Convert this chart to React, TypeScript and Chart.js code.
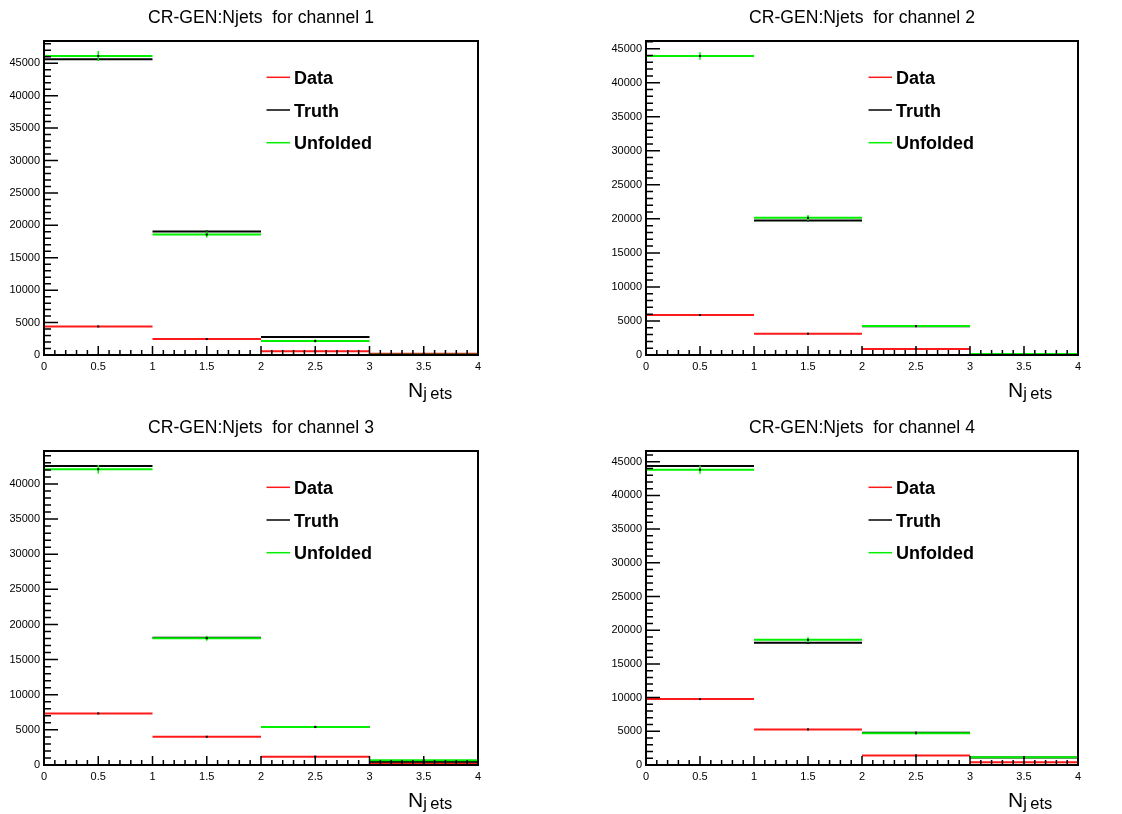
import React, { useEffect, useRef } from "react";
import { Chart, registerables } from "chart.js";
Chart.register(...registerables);

const binEdges = [0, 1, 2, 3, 4];
const seriesNames = ["Data", "Truth", "Unfolded"];
const seriesColors = ["#ff1a1a", "#000000", "#00f000"];
const xLabelMain = "N";
const xLabelSub = "jets";
const xTickValues = [0, 0.5, 1, 1.5, 2, 2.5, 3, 3.5, 4];
const yTickValues = [0, 5000, 10000, 15000, 20000, 25000, 30000, 35000, 40000, 45000];

const titles = [
  "CR-GEN:Njets  for channel 1",
  "CR-GEN:Njets  for channel 2",
  "CR-GEN:Njets  for channel 3",
  "CR-GEN:Njets  for channel 4",
];

const data1 = [4400, 2460, 560, 200];
const truth1 = [45620, 19050, 2780, 40];
const unfolded1 = [46130, 18590, 2160, 30];
const unfoldedErr1 = [780, 450, 250, 40];

const data2 = [5870, 3130, 880, 60];
const truth2 = [43920, 19760, 4230, 120];
const unfolded2 = [43930, 20150, 4260, 140];
const unfoldedErr2 = [550, 420, 150, 30];

const data3 = [7340, 4020, 1190, 240];
const truth3 = [42560, 18100, 5400, 480];
const unfolded3 = [42090, 18050, 5420, 670];
const unfoldedErr3 = [600, 350, 150, 100];

const data4 = [9780, 5280, 1420, 400];
const truth4 = [44370, 18130, 4800, 1100];
const unfolded4 = [43820, 18570, 4720, 1140];
const unfoldedErr4 = [600, 400, 150, 80];

const FONT = "'Liberation Sans', Arial, Helvetica, sans-serif";

type PanelProps = {
  title: string;
  series: number[][];
  err: number[];
  areaLeft: number;
  areaRight: number;
  areaTop: number;
  areaBottom: number;
  width: number;
  height: number;
};

function toSegments(vals: number[]) {
  const pts: { x: number; y: number | null }[] = [];
  vals.forEach((v, i) => {
    pts.push({ x: binEdges[i], y: v });
    pts.push({ x: binEdges[i + 1], y: v });
    pts.push({ x: binEdges[i + 1], y: null });
  });
  return pts;
}

function Panel(p: PanelProps) {
  const ref = useRef<HTMLCanvasElement | null>(null);
  useEffect(() => {
    if (!ref.current) return;
    const all = p.series.flat();
    const yMax = Math.max(...all) * 1.05;
    const decor = {
      id: "rootDecor",
      afterDatasetsDraw(chart: any) {
        const ctx = chart.ctx;
        const xs = chart.scales.x;
        const ys = chart.scales.y;
        ctx.save();
        p.series.forEach((vals, si) => {
          vals.forEach((v, i) => {
            const cx = xs.getPixelForValue((binEdges[i] + binEdges[i + 1]) / 2);
            const cy = ys.getPixelForValue(v);
            if (si === 2) {
              const e = p.err[i];
              ctx.strokeStyle = seriesColors[2];
              ctx.lineWidth = 1.5;
              ctx.beginPath();
              ctx.moveTo(cx, ys.getPixelForValue(v - e));
              ctx.lineTo(cx, ys.getPixelForValue(v + e));
              ctx.stroke();
            }
            ctx.fillStyle = "#000";
            ctx.fillRect(cx - 1, cy - 1, 2, 2);
          });
        });
        ctx.restore();
      },
      afterDraw(chart: any) {
        const ctx = chart.ctx;
        const a = chart.chartArea;
        const xs = chart.scales.x;
        const ys = chart.scales.y;
        ctx.save();
        ctx.strokeStyle = "#000";
        ctx.lineWidth = 2;
        ctx.strokeRect(a.left, a.top, a.right - a.left, a.bottom - a.top);
        ctx.lineWidth = 1.5;
        ctx.beginPath();
        for (let v = 0; v <= ys.max; v += 1000) {
          const y = ys.getPixelForValue(v);
          const len = v % 5000 === 0 ? 14 : 7;
          ctx.moveTo(a.left, y);
          ctx.lineTo(a.left + len, y);
        }
        for (let k = 0; k <= 40; k++) {
          const x = xs.getPixelForValue(k / 10);
          const len = k % 5 === 0 ? 9 : 5;
          ctx.moveTo(x, a.bottom);
          ctx.lineTo(x, a.bottom - len);
        }
        ctx.stroke();
        ctx.fillStyle = "#000";
        ctx.font = `17.6px ${FONT}`;
        ctx.textAlign = "center";
        ctx.textBaseline = "alphabetic";
        ctx.fillText(p.title, (a.left + a.right) / 2, a.top - 18);
        const lx = a.left + 222.5;
        seriesNames.forEach((name, i) => {
          const ry = a.top + 36.3 + i * 32.7;
          ctx.strokeStyle = seriesColors[i];
          ctx.lineWidth = 1.5;
          ctx.beginPath();
          ctx.moveTo(lx, ry);
          ctx.lineTo(lx + 23.5, ry);
          ctx.stroke();
          ctx.fillStyle = "#000";
          ctx.font = `bold 18px ${FONT}`;
          ctx.textAlign = "left";
          ctx.fillText(name, lx + 27.5, ry + 6.5);
        });
        const nx = a.right - 70;
        ctx.font = `21px ${FONT}`;
        ctx.textAlign = "left";
        ctx.fillText(xLabelMain, nx, a.bottom + 42);
        const nw = ctx.measureText(xLabelMain).width;
        ctx.font = `16.5px ${FONT}`;
        ctx.fillText(xLabelSub[0], nx + nw, a.bottom + 44);
        const jw = ctx.measureText(xLabelSub[0]).width;
        ctx.fillText(xLabelSub.slice(1), nx + nw + jw + 3.5, a.bottom + 44);
        ctx.restore();
      },
    };

    const order = [2, 1, 0];
    const chart = new Chart(ref.current, {
      type: "line",
      data: {
        datasets: p.series.map((vals, i) => ({
          label: seriesNames[i],
          data: toSegments(vals),
          borderColor: seriesColors[i],
          backgroundColor: seriesColors[i],
          borderWidth: 2,
          pointRadius: 0,
          spanGaps: false,
          fill: false,
          order: order[i],
        })),
      },
      options: {
        responsive: false,
        maintainAspectRatio: false,
        animation: false,
        layout: {
          padding: {
            left: 0,
            top: p.areaTop,
            right: p.width - p.areaRight,
            bottom: 0,
          },
        },
        plugins: {
          legend: { display: false },
          title: { display: false },
          tooltip: { enabled: false },
        },
        scales: {
          x: {
            type: "linear",
            min: 0,
            max: 4,
            grid: { display: false, drawTicks: false },
            border: { display: false },
            afterBuildTicks: (s: any) => {
              s.ticks = xTickValues.map((v) => ({ value: v }));
            },
            ticks: {
              autoSkip: false,
              padding: 5,
              color: "#000",
              font: { family: FONT, size: 11 },
              maxRotation: 0,
              callback: (v: any) => String(v),
            },
            afterFit: (s: any) => {
              s.height = p.height - p.areaBottom;
            },
          },
          y: {
            type: "linear",
            min: 0,
            max: yMax,
            grid: { display: false, drawTicks: false },
            border: { display: false },
            afterBuildTicks: (s: any) => {
              s.ticks = yTickValues.filter((v) => v <= yMax).map((v) => ({ value: v }));
            },
            ticks: {
              autoSkip: false,
              padding: 4,
              color: "#000",
              font: { family: FONT, size: 11 },
              callback: (v: any) => String(v),
            },
            afterFit: (s: any) => {
              s.width = p.areaLeft;
            },
          },
        },
      },
      plugins: [decor],
    } as any);
    return () => chart.destroy();
  }, []);
  return (
    <canvas
      ref={ref}
      width={p.width}
      height={p.height}
      style={{ display: "block", width: p.width, height: p.height }}
    />
  );
}

export default function App() {
  const W = 561;
  const H = 407;
  const panels = [
    { series: [data1, truth1, unfolded1], err: unfoldedErr1, areaLeft: 44, areaRight: 478, areaTop: 41, areaBottom: 355 },
    { series: [data2, truth2, unfolded2], err: unfoldedErr2, areaLeft: 85, areaRight: 517, areaTop: 41, areaBottom: 355 },
    { series: [data3, truth3, unfolded3], err: unfoldedErr3, areaLeft: 44, areaRight: 478, areaTop: 44, areaBottom: 358 },
    { series: [data4, truth4, unfolded4], err: unfoldedErr4, areaLeft: 85, areaRight: 517, areaTop: 44, areaBottom: 358 },
  ];
  return (
    <div
      style={{
        position: "fixed",
        left: 0,
        top: 0,
        width: 1122,
        height: 814,
        background: "#fff",
        display: "grid",
        gridTemplateColumns: `${W}px ${W}px`,
        gridTemplateRows: `${H}px ${H}px`,
      }}
    >
      {panels.map((pp, i) => (
        <Panel key={i} title={titles[i]} width={W} height={H} {...pp} />
      ))}
    </div>
  );
}
